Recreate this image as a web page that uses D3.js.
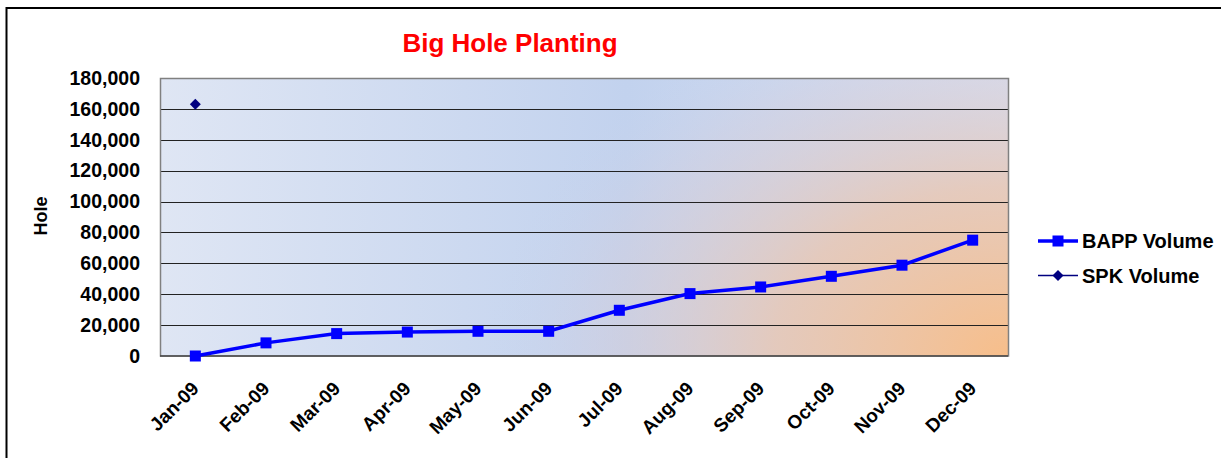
<!DOCTYPE html>
<html lang="en">
<head>
<meta charset="utf-8">
<title>Big Hole Planting</title>
<script src="https://cdn.jsdelivr.net/npm/d3@7"></script>
<style>
  body { margin: 0; background: #fff; }
  svg { display: block; font-family: "Liberation Sans", Arial, sans-serif; }
</style>
</head>
<body>
<div id="chart"></div>
<script>
// data
var months = ["Jan-09", "Feb-09", "Mar-09", "Apr-09", "May-09", "Jun-09",
              "Jul-09", "Aug-09", "Sep-09", "Oct-09", "Nov-09", "Dec-09"];
var bappVolume = [0, 8500, 14500, 15500, 16000, 16000, 29600, 40400, 44700, 51600, 58800, 75000];
var spkVolume = [163000, null, null, null, null, null, null, null, null, null, null, null];
var yTicks = [0, 20000, 40000, 60000, 80000, 100000, 120000, 140000, 160000, 180000];

var W = 1221, H = 458;
var margin = {top: 78, left: 160, right: 213, bottom: 102};
var width = W - margin.left - margin.right,
    height = H - margin.top - margin.bottom;
var FONT = "Liberation Sans, Arial, sans-serif";

var svg = d3.select("#chart").append("svg")
  .attr("width", W).attr("height", H);

// outer frame
svg.append("rect")
  .attr("x", 6.5).attr("y", 8).attr("width", W).attr("height", H)
  .attr("fill", "none").attr("stroke", "#000").attr("stroke-width", 2);

var defs = svg.append("defs");
var lin = defs.append("linearGradient").attr("id", "bgLin")
  .attr("x1", "0%").attr("x2", "100%").attr("y1", "0%").attr("y2", "0%");
lin.append("stop").attr("offset", "0%").attr("stop-color", "#dfe6f4");
lin.append("stop").attr("offset", "55%").attr("stop-color", "#c2d2ee");
lin.append("stop").attr("offset", "100%").attr("stop-color", "#d6e0f3");

var rad = defs.append("radialGradient").attr("id", "bgRad")
  .attr("gradientUnits", "userSpaceOnUse")
  .attr("cx", width).attr("cy", height).attr("r", 520)
  .attr("gradientTransform", "translate(" + width + "," + height + ") scale(1,0.72) translate(" + (-width) + "," + (-height) + ")");
rad.append("stop").attr("offset", "0%").attr("stop-color", "#f7be8a").attr("stop-opacity", 1);
rad.append("stop").attr("offset", "45%").attr("stop-color", "#e8c7b4").attr("stop-opacity", 0.85);
rad.append("stop").attr("offset", "80%").attr("stop-color", "#d8cdd8").attr("stop-opacity", 0.35);
rad.append("stop").attr("offset", "100%").attr("stop-color", "#c8d3ec").attr("stop-opacity", 0);

var g = svg.append("g").attr("transform", "translate(" + margin.left + "," + margin.top + ")");

g.append("rect").attr("width", width).attr("height", height).attr("fill", "url(#bgLin)");
g.append("rect").attr("width", width).attr("height", height).attr("fill", "url(#bgRad)");

var x = d3.scaleBand().domain(months).range([0, width]);
var y = d3.scaleLinear().domain([0, 180000]).range([height, 0]);

// gridlines
g.append("g").selectAll("line")
  .data(yTicks.slice(1, -1))
  .enter().append("line")
  .attr("x1", 0).attr("x2", width)
  .attr("y1", function(d) { return Math.round(y(d)) + 0.5; })
  .attr("y2", function(d) { return Math.round(y(d)) + 0.5; })
  .attr("stroke", "#222").attr("stroke-width", 1);

g.append("rect").attr("x", 0.5).attr("y", 0.5)
  .attr("width", width).attr("height", height - 0.5)
  .attr("fill", "none").attr("stroke", "#808080").attr("stroke-width", 1.5);
g.append("line").attr("x1", 0).attr("x2", width)
  .attr("y1", height).attr("y2", height).attr("stroke", "#222");

// y axis
var yAxis = g.append("g")
  .call(d3.axisLeft(y).tickValues(yTicks).tickSize(0).tickPadding(20)
    .tickFormat(d3.format(",")));
yAxis.select(".domain").remove();
yAxis.selectAll("text").attr("font-size", "19.5px").attr("font-weight", "bold")
  .attr("fill", "#000").attr("font-family", FONT);

// x axis
var xAxis = g.append("g").attr("transform", "translate(0," + height + ")")
  .call(d3.axisBottom(x).tickSize(0).tickPadding(0));
xAxis.select(".domain").remove();
xAxis.selectAll("text")
  .attr("font-size", "19px").attr("font-weight", "bold").attr("fill", "#000")
  .attr("font-family", FONT)
  .attr("text-anchor", "end")
  .attr("y", 0)
  .attr("dy", "0.35em")
  .attr("transform", "translate(0,29) rotate(-45)");

// BAPP line
var line = d3.line()
  .x(function(d, i) { return x(months[i]) + x.bandwidth() / 2; })
  .y(function(d) { return y(d); });

g.append("path").datum(bappVolume)
  .attr("d", line).attr("fill", "none")
  .attr("stroke", "#0000ff").attr("stroke-width", 3.5);

g.selectAll(".bapp").data(bappVolume).enter().append("rect")
  .attr("class", "bapp")
  .attr("x", function(d, i) { return x(months[i]) + x.bandwidth() / 2 - 5.5; })
  .attr("y", function(d) { return y(d) - 5.5; })
  .attr("width", 11).attr("height", 11).attr("fill", "#0000ff");

// SPK points (square turned into a diamond)
var diamond = d3.symbol().type(d3.symbolSquare).size(60);
g.selectAll(".spk").data(spkVolume.map(function(v, i) { return {v: v, m: months[i]}; })
    .filter(function(d) { return d.v != null; }))
  .enter().append("path").attr("class", "spk")
  .attr("d", diamond)
  .attr("transform", function(d) { return "translate(" + (x(d.m) + x.bandwidth() / 2) + "," + y(d.v) + ") rotate(45)"; })
  .attr("fill", "#000080");

// title
svg.append("text").attr("x", 510).attr("y", 52)
  .attr("text-anchor", "middle").attr("font-size", "26px").attr("font-weight", "bold")
  .attr("fill", "#ff0000").text("Big Hole Planting");

// y title
svg.append("text")
  .attr("transform", "translate(47,216) rotate(-90)")
  .attr("text-anchor", "middle").attr("font-size", "18px").attr("font-weight", "bold")
  .text("Hole");

// legend
var legend = [
  {name: "BAPP Volume", color: "#0000ff", width: 3.5, mark: "square"},
  {name: "SPK Volume", color: "#000080", width: 1.5, mark: "diamond"}
];
var lg = svg.append("g").attr("transform", "translate(1038,241)");
legend.forEach(function(d, i) {
  var row = lg.append("g").attr("transform", "translate(0," + (i * 34.5) + ")");
  row.append("line").attr("x1", 0).attr("x2", 40).attr("y1", 0).attr("y2", 0)
    .attr("stroke", d.color).attr("stroke-width", d.width);
  if (d.mark === "square") {
    row.append("rect").attr("x", 14.5).attr("y", -5.5).attr("width", 11).attr("height", 11).attr("fill", d.color);
  } else {
    row.append("path").attr("d", diamond).attr("transform", "translate(20,0) rotate(45)").attr("fill", d.color);
  }
  row.append("text").attr("x", 44).attr("y", 0).attr("dy", "0.36em")
    .attr("font-size", "20px").attr("font-weight", "bold").text(d.name);
});
</script>
</body>
</html>
